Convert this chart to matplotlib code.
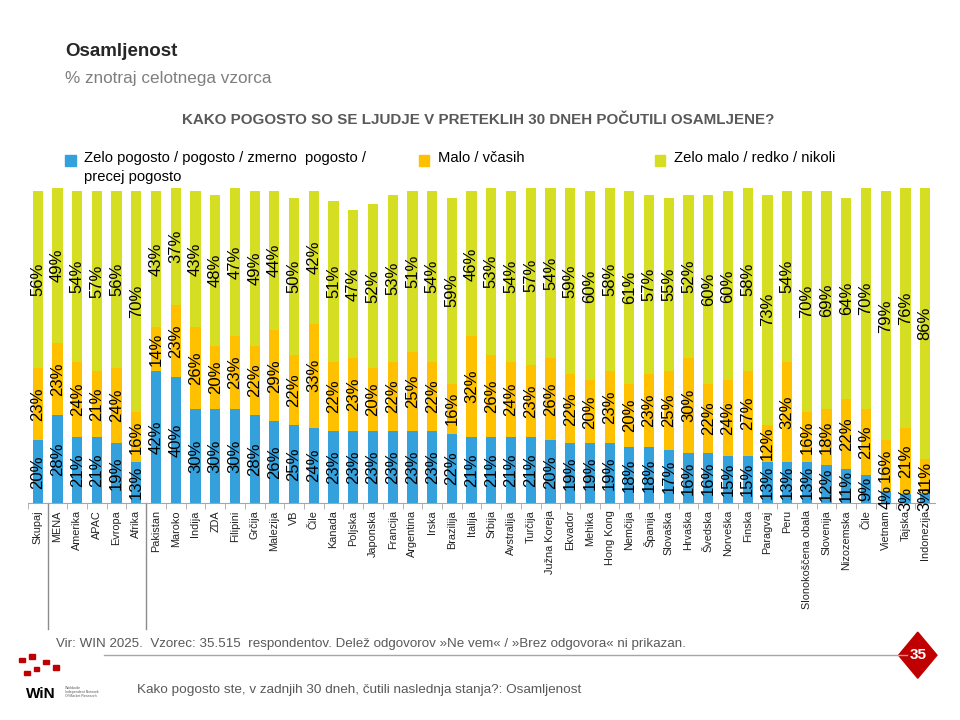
"""Osamljenost - stacked bars by country (WIN 2025)."""

import matplotlib.pyplot as plt
from matplotlib.patches import Polygon, Rectangle
from matplotlib.transforms import blended_transform_factory
import numpy as np

plt.rcParams["font.family"] = ["Liberation Sans", "DejaVu Sans"]

countries = [
    "Skupaj", "MENA", "Amerika", "APAC", "Evropa", "Afrika",
    "Pakistan", "Maroko", "Indija", "ZDA", "Filipini", "Grčija", "Malezija",
    "VB", "Čile", "Kanada", "Poljska", "Japonska", "Francija", "Argentina",
    "Irska", "Brazilija", "Italija", "Srbija", "Avstralija", "Turčija",
    "Južna Koreja", "Ekvador", "Mehika", "Hong Kong", "Nemčija", "Španija",
    "Slovaška", "Hrvaška", "Švedska", "Norveška", "Finska", "Paragvaj", "Peru",
    "Slonokoščena obala", "Slovenija", "Nizozemska", "Čile", "Vietnam",
    "Tajska", "Indonezija",
]
often = [20, 28, 21, 21, 19, 13, 42, 40, 30, 30, 30, 28, 26, 25, 24, 23, 23,
         23, 23, 23, 23, 22, 21, 21, 21, 21, 20, 19, 19, 19, 18, 18, 17, 16,
         16, 15, 15, 13, 13, 13, 12, 11, 9, 4, 3, 3]
sometimes = [23, 23, 24, 21, 24, 16, 14, 23, 26, 20, 23, 22, 29, 22, 33, 22,
             23, 20, 22, 25, 22, 16, 32, 26, 24, 23, 26, 22, 20, 23, 20, 23,
             25, 30, 22, 24, 27, 12, 32, 16, 18, 22, 21, 16, 21, 11]
rarely = [56, 49, 54, 57, 56, 70, 43, 37, 43, 48, 47, 49, 44, 50, 42, 51, 47,
          52, 53, 51, 54, 59, 46, 53, 54, 57, 54, 59, 60, 58, 61, 57, 55, 52,
          60, 60, 58, 73, 54, 70, 69, 64, 70, 79, 76, 86]
series_names = [
    "Zelo pogosto / pogosto / zmerno  pogosto /\nprecej pogosto",
    "Malo / včasih",
    "Zelo malo / redko / nikoli",
]
colors = ["#34A0DC", "#FFC000", "#D6DE24"]

fig = plt.figure(figsize=(9.6, 7.2), dpi=100)
ax = fig.add_axes([0.029, 0.301, 0.945, 0.4375])

x = np.arange(len(countries))
bottom = np.zeros(len(countries))
for vals, col in zip([often, sometimes, rarely], colors):
    vals = np.asarray(vals, dtype=float)
    ax.bar(x, vals, bottom=bottom, width=0.52, color=col, zorder=2)
    for xi, b, v in zip(x, bottom, vals):
        ax.text(xi, b + v / 2, f"{int(v)}%", rotation=90, ha="center",
                va="center", fontsize=12, color="black", zorder=3)
    bottom += vals

ax.set_xlim(-0.5, len(countries) - 0.5)
ax.set_ylim(0, 100)
for s in ("top", "right", "left"):
    ax.spines[s].set_visible(False)
ax.spines["bottom"].set_color("#A6A6A6")
ax.set_yticks([])
ax.set_xticks(x)
ax.set_xticklabels(countries, rotation=90, fontsize=7.8, color="#222222")
ax.tick_params(axis="x", which="major", length=0, pad=5)
ax.set_xticks(np.append(x[:-1] + 0.5, -0.5), minor=True)
ax.tick_params(axis="x", which="minor", length=4, color="#A6A6A6")

# group separators
trans = blended_transform_factory(ax.transData, ax.transAxes)
for sep in (0.5, 5.5):
    ax.plot([sep, sep], [0, -0.4], transform=trans, color="#8C8C8C",
            lw=1.0, clip_on=False)

# headings
fig.text(0.068, 0.922, "Osamljenost", fontsize=13.5, fontweight="bold",
         color="#262626")
fig.text(0.068, 0.885, "% znotraj celotnega vzorca", fontsize=12.3,
         color="#7F7F7F")
fig.text(0.498, 0.828, "KAKO POGOSTO SO SE LJUDJE V PRETEKLIH 30 DNEH POČUTILI OSAMLJENE?",
         fontsize=10.9, fontweight="bold", color="#595959", ha="center")

# legend
leg_x = [0.068, 0.436, 0.682]
for lx, name, col in zip(leg_x, series_names, colors):
    fig.patches.append(Rectangle((lx, 0.770), 0.011, 0.0145, color=col,
                                 transform=fig.transFigure))
    fig.text(lx + 0.020, 0.790, name, fontsize=10.6, color="black", va="top",
             linespacing=1.4)

# footer
fig.text(0.058, 0.102, "Vir: WIN 2025.  Vzorec: 35.515  respondentov. Delež odgovorov "
         "»Ne vem« / »Brez odgovora« ni prikazan.", fontsize=9.6, color="#595959")
fig.add_artist(plt.Line2D([0.108, 0.945], [0.090, 0.090], color="#A6A6A6",
                          lw=1.0, transform=fig.transFigure))
fig.patches.append(Polygon([[0.956, 0.122], [0.976, 0.090], [0.956, 0.058],
                            [0.936, 0.090]], closed=True, color="#C00000",
                           transform=fig.transFigure))
fig.text(0.956, 0.090, "35", fontsize=11, fontweight="bold", color="white",
         ha="center", va="center")
fig.text(0.027, 0.030, "WiN", fontsize=11, fontweight="bold", color="black")
fig.text(0.068, 0.032, "Worldwide\nIndependent Network\nOf Market Research",
         fontsize=2.5, color="#595959", linespacing=1.0)
for dx, dy in [(0.020, 0.080), (0.030, 0.085), (0.045, 0.078), (0.055, 0.070),
               (0.035, 0.068), (0.025, 0.062)]:
    fig.patches.append(Rectangle((dx, dy), 0.006, 0.006, color="#C00000",
                                 transform=fig.transFigure))
fig.text(0.143, 0.038, "Kako pogosto ste, v zadnjih 30 dneh, čutili naslednja "
         "stanja?: Osamljenost", fontsize=9.7, color="#595959")

fig.savefig("out.png", dpi=100)
